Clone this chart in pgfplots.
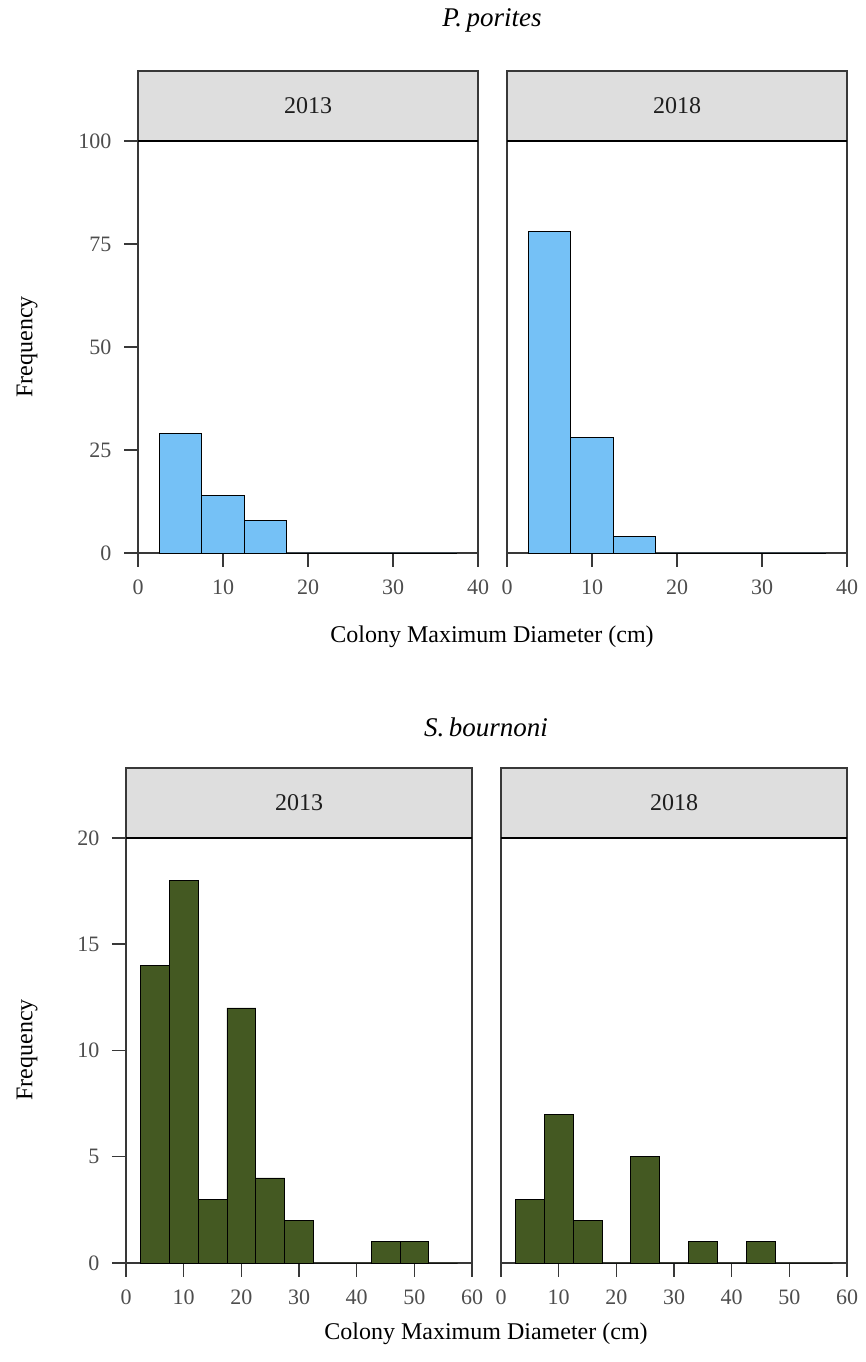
\documentclass[border=0pt]{standalone}
\usepackage{fontspec}
\setmainfont{Liberation Serif}
\usepackage{pgfplots}
\pgfplotsset{compat=1.18}

\definecolor{barblue}{RGB}{117,193,246}
\definecolor{bargreen}{RGB}{68,89,34}
\definecolor{stripgray}{RGB}{222,222,222}
\definecolor{framegray}{RGB}{56,56,56}
\definecolor{ticktext}{RGB}{77,77,77}

\pgfplotsset{
  panel/.style={
    scale only axis,
    anchor=south west,
    clip=false,
    enlargelimits=false,
    ymin=0,
    axis line style={draw=framegray, line width=1.5pt},
    tick align=outside,
    major tick length=14pt,
    every tick/.style={draw=framegray, line width=1.5pt},
    xtick pos=bottom,
    ytick pos=left,
    tick label style={font=\fontsize{22}{24}\selectfont, text=ticktext},
    /pgf/number format/assume math mode=true,
    xticklabel style={yshift=-9pt},
    yticklabel style={xshift=-9pt},
    ybar, bar width=5, bar shift=0pt,
  },
  strip/.style n args={2}{
    execute at end axis={
      \draw[draw=framegray, line width=1.3pt, fill=stripgray]
        (rel axis cs:0,1) rectangle (rel axis cs:1,#2);
      \draw[black, line width=2.8pt] (rel axis cs:0,1) -- (rel axis cs:1,1);
      \node[font=\fontsize{24}{26}\selectfont, text={rgb,255:red,30;green,30;blue,30}]
        at (rel axis cs:0.5,{(1+#2)/2}) {#1};
    }
  },
}

\begin{document}
\begin{tikzpicture}
\path[use as bounding box] (0pt,0pt) rectangle (865pt,1362pt);

% ---------- P. porites ----------
\begin{axis}[panel, strip={2013}{1.17},
  at={(138pt,809pt)}, width=340pt, height=412pt,
  xmin=0, xmax=40, ymax=100,
  xtick={0,10,20,30,40}, ytick={0,25,50,75,100}]
  \addplot[fill=barblue, draw=black, line width=0.8pt] coordinates
    {(5,29) (10,14) (15,8) (20,0) (25,0) (30,0) (35,0)};
\end{axis}

\begin{axis}[panel, strip={2018}{1.17},
  at={(507pt,809pt)}, width=340pt, height=412pt,
  xmin=0, xmax=40, ymax=100,
  xtick={0,10,20,30,40}, ytick=\empty]
  \addplot[fill=barblue, draw=black, line width=0.8pt] coordinates
    {(5,78) (10,28) (15,4) (20,0) (25,0) (30,0) (35,0)};
\end{axis}

\node[font=\fontsize{27}{30}\selectfont\itshape] at (492pt,1342pt) {P.\,porites};
\node[font=\fontsize{24}{26}\selectfont] at (492pt,725pt) {Colony Maximum Diameter (cm)};
\node[font=\fontsize{24}{26}\selectfont, rotate=90] at (27pt,1015pt) {Frequency};

% ---------- S. bournoni ----------
\begin{axis}[panel, strip={2013}{1.165},
  at={(126pt,99pt)}, width=346pt, height=425pt,
  xmin=0, xmax=60, ymax=20,
  xtick={0,10,20,30,40,50,60}, ytick={0,5,10,15,20}]
  \addplot[fill=bargreen, draw=black, line width=0.8pt] coordinates
    {(5,14) (10,18) (15,3) (20,12) (25,4) (30,2) (35,0) (40,0) (45,1) (50,1) (55,0)};
\end{axis}

\begin{axis}[panel, strip={2018}{1.165},
  at={(501pt,99pt)}, width=346pt, height=425pt,
  xmin=0, xmax=60, ymax=20,
  xtick={0,10,20,30,40,50,60}, ytick=\empty]
  \addplot[fill=bargreen, draw=black, line width=0.8pt] coordinates
    {(5,3) (10,7) (15,2) (20,0) (25,5) (30,0) (35,1) (40,0) (45,1) (50,0) (55,0)};
\end{axis}

\node[font=\fontsize{27}{30}\selectfont\itshape] at (486pt,635pt) {S.\,bournoni};
\node[font=\fontsize{24}{26}\selectfont] at (486pt,28pt) {Colony Maximum Diameter (cm)};
\node[font=\fontsize{24}{26}\selectfont, rotate=90] at (27pt,312pt) {Frequency};
\end{tikzpicture}
\end{document}
